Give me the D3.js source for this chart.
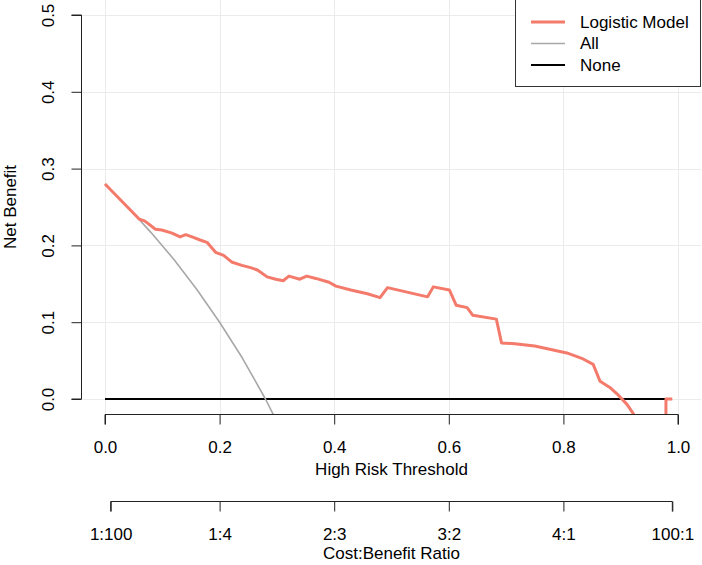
<!DOCTYPE html>
<html>
<head>
<meta charset="utf-8">
<script src="https://cdn.jsdelivr.net/npm/d3@7"></script>
<style>
  html, body { margin: 0; padding: 0; background: #fff; }
  svg { display: block; font-family: "Liberation Sans", Arial, sans-serif; }
</style>
</head>
<body>
<svg id="chart" width="702" height="565"></svg>
<script>
/*************************************/
/*  Data      */
/*************************************/
const modelThreshold = [0, 0.060, 0.069, 0.076, 0.088, 0.099, 0.117, 0.131, 0.141, 0.152,
  0.166, 0.178, 0.193, 0.207, 0.222, 0.239, 0.254, 0.266, 0.283, 0.298, 0.311, 0.321,
  0.340, 0.352, 0.368, 0.391, 0.403, 0.429, 0.458, 0.480, 0.493, 0.563, 0.573, 0.601,
  0.613, 0.632, 0.642, 0.683, 0.692, 0.715, 0.750, 0.774, 0.806, 0.832, 0.852, 0.864,
  0.881, 0.896, 0.911, 0.922, 0.940, 0.960, 0.978, 0.979, 0.990];
const modelNetBenefit = [0.280, 0.234, 0.232, 0.228, 0.221, 0.220, 0.216, 0.211, 0.214, 0.211,
  0.207, 0.204, 0.191, 0.187, 0.178, 0.174, 0.171, 0.168, 0.159, 0.156, 0.154, 0.160,
  0.156, 0.160, 0.157, 0.152, 0.147, 0.142, 0.137, 0.132, 0.145, 0.133, 0.146, 0.142,
  0.122, 0.119, 0.109, 0.104, 0.073, 0.072, 0.069, 0.065, 0.060, 0.053, 0.045, 0.023,
  0.015, 0.005, -0.007, -0.019, -0.060, -0.130, -0.350, 0.000, 0.000];

const allThreshold  = [0, 0.04, 0.08, 0.12, 0.16, 0.20, 0.24, 0.28, 0.32];
const allNetBenefit = [0.280, 0.250, 0.217, 0.182, 0.143, 0.100, 0.053, 0.000, -0.059];

const noneThreshold  = [0, 0.985];
const noneNetBenefit = [0, 0];

const xTicks = [0, 0.2, 0.4, 0.6, 0.8, 1.0];
const yTicks = [0, 0.1, 0.2, 0.3, 0.4, 0.5];
const costBenefitLabels = ["1:100", "1:4", "2:3", "3:2", "4:1", "100:1"];
const costBenefitTicks  = [1 / 101, 0.2, 0.4, 0.6, 0.8, 100 / 101];

const series = [
  { label: "Logistic Model", color: "#F47A6B", width: 3,   x: modelThreshold, y: modelNetBenefit },
  { label: "All",            color: "#A8A8A8", width: 1.6, x: allThreshold,   y: allNetBenefit },
  { label: "None",           color: "#000000", width: 2,   x: noneThreshold,  y: noneNetBenefit }
];

/****************************/
/*   Scales                 */
/****************************/
const xScale = d3.scaleLinear().domain([0, 1]).range([105, 678]);
const yScale = d3.scaleLinear().domain([0, 0.5]).range([399, 15]);

const plotLeft = xScale(-0.04), plotRight = xScale(1.04);
const plotTop = yScale(0.52), plotBottom = yScale(-0.02);

const svg = d3.select("#chart");

svg.append("defs").append("clipPath")
    .attr("id", "plot-clip")
  .append("rect")
    .attr("x", plotLeft)
    .attr("y", plotTop)
    .attr("width", plotRight - plotLeft)
    .attr("height", plotBottom - plotTop);

/****************************/
/*   Grid                   */
/****************************/
const grid = svg.append("g").attr("class", "grid")
  .attr("stroke", "#EBEBEB").attr("stroke-width", 1);

grid.selectAll(".vgrid")
  .data(xTicks)
  .join("line")
    .attr("x1", d => Math.round(xScale(d)) + 0.5)
    .attr("x2", d => Math.round(xScale(d)) + 0.5)
    .attr("y1", plotTop)
    .attr("y2", plotBottom);

grid.selectAll(".hgrid")
  .data(yTicks)
  .join("line")
    .attr("x1", plotLeft)
    .attr("x2", plotRight)
    .attr("y1", d => Math.round(yScale(d)) + 0.5)
    .attr("y2", d => Math.round(yScale(d)) + 0.5);

/****************************/
/*   Lines                  */
/****************************/
const line = d3.line()
  .x(d => xScale(d[0]))
  .y(d => yScale(d[1]));

svg.append("g")
    .attr("clip-path", "url(#plot-clip)")
  .selectAll(".curve")
  .data(series.slice().reverse())
  .join("path")
    .attr("class", "curve")
    .attr("fill", "none")
    .attr("stroke", d => d.color)
    .attr("stroke-width", d => d.width)
    .attr("stroke-linejoin", "round")
    .attr("d", d => line(d.x.map((v, i) => [v, d.y[i]])));

/****************************/
/*   Axes                   */
/****************************/
const fmt = d3.format(".1f");
const axisFont = g => g.selectAll("text")
  .attr("font-size", 17)
  .attr("font-family", "'Liberation Sans', Arial, sans-serif")
  .attr("fill", "#000");

svg.append("g")
    .attr("transform", `translate(${Math.round(plotLeft) - 0.5},0)`)
    .call(d3.axisLeft(yScale).tickValues(yTicks).tickFormat(fmt).tickSize(10).tickPadding(0))
    .call(g => g.select(".domain").attr("d", `M-10,${yScale(0)}H0V${yScale(0.5)}H-10`).attr("stroke", "#222"))
    .call(g => g.selectAll(".tick line").attr("stroke", "#222"))
    .call(axisFont)
    .call(g => g.selectAll(".tick text")
      .attr("x", 0).attr("dy", 0)
      .attr("text-anchor", "middle")
      .attr("transform", "translate(-33,0) rotate(-90)")
      .attr("dominant-baseline", "central"));

svg.append("g")
    .attr("transform", `translate(0,${Math.round(plotBottom) + 0.5})`)
    .call(d3.axisBottom(xScale).tickValues(xTicks).tickFormat(fmt).tickSize(10).tickPadding(16))
    .call(g => g.select(".domain").attr("stroke", "#222").attr("d", `M${xScale(0)},10V0H${xScale(1)}V10`))
    .call(g => g.selectAll(".tick line").attr("stroke", "#222"))
    .call(axisFont);

svg.append("g")
    .attr("transform", "translate(0,501.5)")
    .call(d3.axisBottom(xScale).tickValues(costBenefitTicks)
      .tickFormat((d, i) => costBenefitLabels[i]).tickSize(10).tickPadding(16))
    .call(g => g.select(".domain").attr("stroke", "#222")
      .attr("d", `M${xScale(costBenefitTicks[0])},10V0H${xScale(costBenefitTicks[5])}V10`))
    .call(g => g.selectAll(".tick line").attr("stroke", "#222"))
    .call(axisFont);

/****************************/
/*   Axis titles            */
/****************************/
svg.append("text")
  .attr("x", xScale(0.5)).attr("y", 475)
  .attr("text-anchor", "middle").attr("font-size", 17)
  .text("High Risk Threshold");

svg.append("text")
  .attr("x", xScale(0.5)).attr("y", 559)
  .attr("text-anchor", "middle").attr("font-size", 17)
  .text("Cost:Benefit Ratio");

svg.append("text")
  .attr("transform", `translate(16,${yScale(0.25)}) rotate(-90)`)
  .attr("text-anchor", "middle").attr("font-size", 17)
  .text("Net Benefit");

/****************************/
/*   Legend                 */
/****************************/
const legend = svg.append("g").attr("class", "legend");

legend.append("rect")
  .attr("x", 515.5).attr("y", -0.5)
  .attr("width", 185).attr("height", 87)
  .attr("fill", "#fff").attr("stroke", "#333").attr("stroke-width", 1);

const items = legend.selectAll(".item")
  .data(series)
  .join("g")
    .attr("transform", (d, i) => `translate(0,${22 + i * 21.5})`);

items.append("line")
  .attr("x1", 531).attr("x2", 565)
  .attr("stroke", d => d.color)
  .attr("stroke-width", d => d.width);

items.append("text")
  .attr("x", 580).attr("y", 0)
  .attr("dominant-baseline", "central")
  .attr("font-size", 17)
  .text(d => d.label);
</script>
</body>
</html>
